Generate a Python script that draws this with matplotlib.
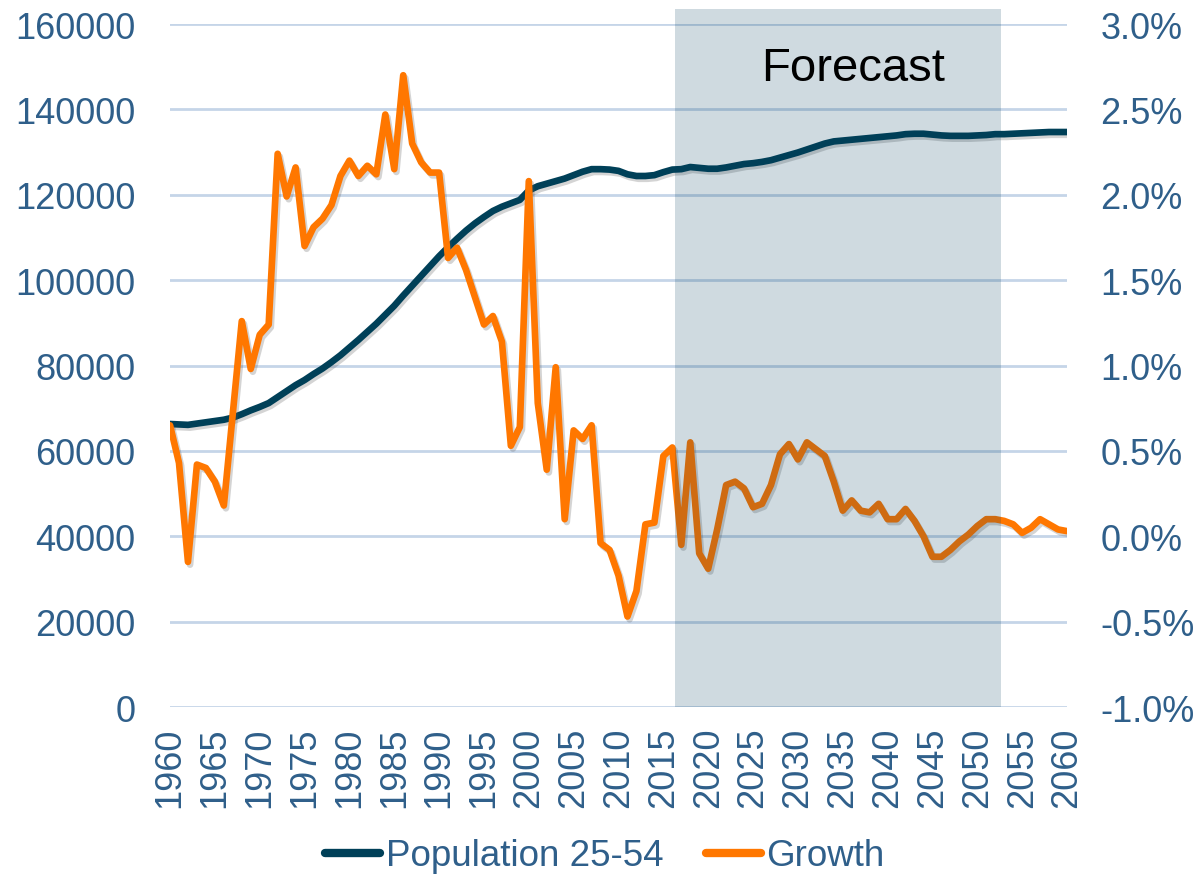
import numpy as np
import matplotlib
matplotlib.use("Agg")
import matplotlib.pyplot as plt
import matplotlib.patheffects as pe
from matplotlib.ticker import FuncFormatter

plt.rcParams['font.family'] = ['Liberation Sans', 'DejaVu Sans']

years = list(range(1960, 2061))

population = [
    66300, 66200, 66100, 66400, 66700, 67000, 67300, 67800, 68600, 69500,
    70300, 71200, 72600, 74000, 75400, 76600, 78000, 79300, 80800, 82400,
    84200, 86000, 87900, 89800, 91900, 94000, 96400, 98700, 101000, 103300,
    105600, 107700, 109700, 111600, 113300, 114800, 116200, 117200, 118000, 118800,
    121000, 122000, 122600, 123200, 123800, 124600, 125400, 126000, 126000, 125900,
    125600, 124800, 124400, 124400, 124600, 125300, 125900, 126000, 126500, 126300,
    126100, 126100, 126400, 126800, 127200, 127400, 127700, 128100, 128700, 129300,
    129900, 130600, 131300, 132000, 132500, 132700, 132900, 133100, 133300, 133500,
    133700, 133900, 134200, 134300, 134300, 134100, 133900, 133800, 133800, 133800,
    133900, 134000, 134200, 134200, 134300, 134400, 134500, 134600, 134700, 134700,
    134700,
]

# growth in percent
growth = [
    0.65, 0.43, -0.15, 0.42, 0.40, 0.32, 0.18, 0.72, 1.26, 0.98,
    1.18, 1.24, 2.24, 1.99, 2.16, 1.70, 1.81, 1.86, 1.94, 2.11,
    2.20, 2.11, 2.17, 2.12, 2.47, 2.15, 2.70, 2.30, 2.19, 2.13,
    2.13, 1.63, 1.69, 1.56, 1.40, 1.24, 1.29, 1.14, 0.53, 0.64,
    2.08, 0.78, 0.39, 0.99, 0.10, 0.62, 0.57, 0.65, -0.04, -0.08,
    -0.23, -0.47, -0.32, 0.07, 0.08, 0.47, 0.52, -0.05, 0.55, -0.10,
    -0.19, 0.04, 0.30, 0.32, 0.28, 0.17, 0.19, 0.30, 0.48, 0.54,
    0.45, 0.55, 0.51, 0.47, 0.32, 0.15, 0.21, 0.15, 0.14, 0.19,
    0.10, 0.10, 0.16, 0.09, 0.00, -0.12, -0.12, -0.08, -0.03, 0.01,
    0.06, 0.10, 0.10, 0.09, 0.07, 0.02, 0.05, 0.10, 0.07, 0.04,
    0.03,
]

forecast_start, forecast_end = 2016.3, 2052.6

navy = '#004058'
orange = '#FF7700'
text_col = '#2F5F8A'
grid_col = '#C5D5E8'

fig = plt.figure(figsize=(11.99, 8.78), dpi=100)
ax = fig.add_axes([0.1418, 0.1936, 0.7481, 0.7779])
ax2 = ax.twinx()

shadow = [pe.SimpleLineShadow(offset=(1.5, -2), alpha=0.25, shadow_color='#555555'), pe.Normal()]

ax.plot(years, population, color=navy, lw=4.8, solid_capstyle='round',
        path_effects=shadow, label='Population 25-54', zorder=3)
ax2.plot(years, growth, color=orange, lw=4.8, solid_capstyle='round',
         path_effects=shadow, label='Growth', zorder=3)

# forecast shading drawn on top of the lines
ax2.axvspan(forecast_start, forecast_end, ymin=0, ymax=1.022, color='#003C5C',
            alpha=0.19, lw=0, zorder=5, clip_on=False)
ax2.text(2036.2, 2.74, 'Forecast', fontsize=34,
         color='black', ha='center', va='center', zorder=6)

ax.set_xlim(1960, 2060)
ax.set_ylim(0, 160000)
ax2.set_ylim(-1.0, 3.0)
ax.set_xticks(range(1960, 2061, 5))
ax.set_yticks(range(0, 160001, 20000))
ax2.set_yticks(np.arange(-1.0, 3.01, 0.5))
ax2.yaxis.set_major_formatter(FuncFormatter(lambda v, p: f'{v:.1f}%'))

ax.grid(axis='y', color=grid_col, lw=2)
ax.set_axisbelow(True)

for a in (ax, ax2):
    for s in a.spines.values():
        s.set_visible(False)

ax.tick_params(axis='x', length=0, labelsize=26, colors=text_col, labelrotation=90, pad=14)
ax.tick_params(axis='y', length=0, labelsize=26, colors=text_col, pad=25)
ax2.tick_params(axis='y', length=0, labelsize=26, colors=text_col, pad=24)

h1, l1 = ax.get_legend_handles_labels()
h2, l2 = ax2.get_legend_handles_labels()
leg = fig.legend(h1 + h2, l1 + l2, loc='center', bbox_to_anchor=(0.5046, 0.024),
                 ncol=2, frameon=False, fontsize=26.5, handlelength=1.5,
                 handletextpad=0.15, columnspacing=1.15)
for t in leg.get_texts():
    t.set_color(text_col)
for h in leg.get_lines():
    h.set_linewidth(6)
    h.set_path_effects([])

fig.savefig('out.png', dpi=100)
